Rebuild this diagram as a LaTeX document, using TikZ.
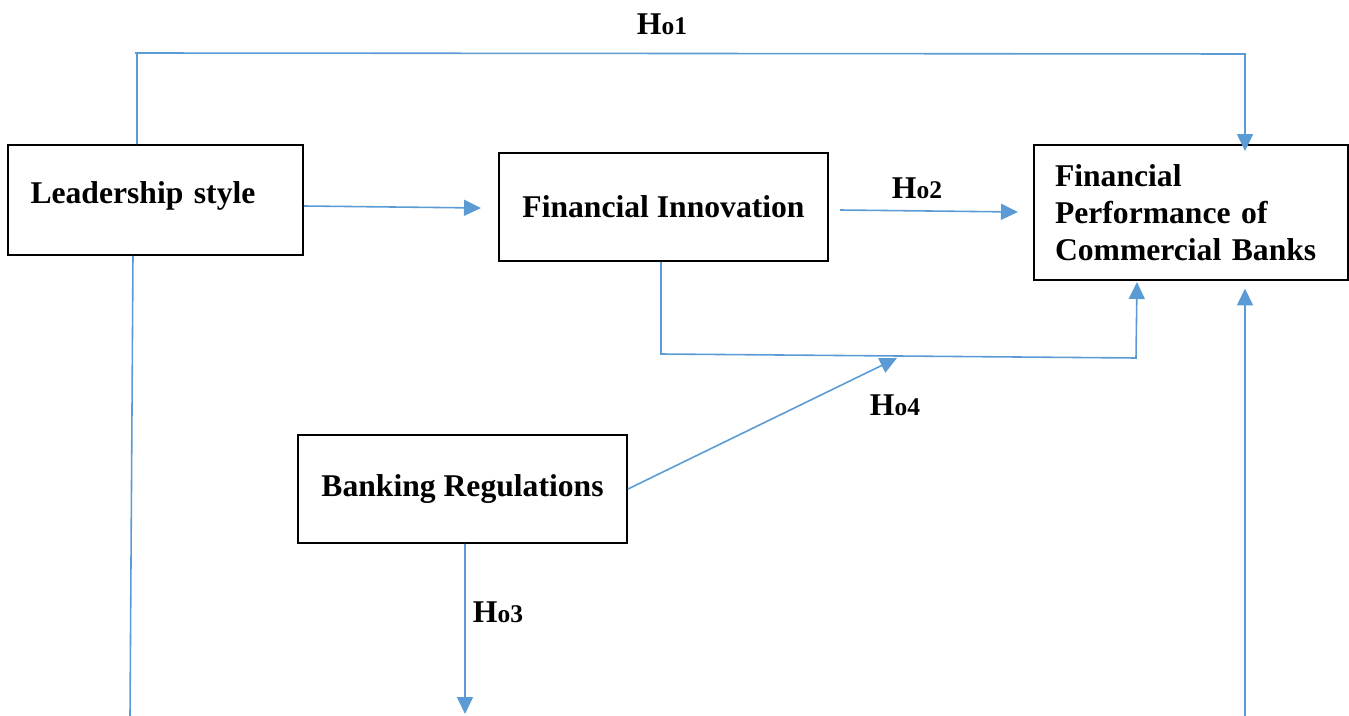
\documentclass[tikz,border=0pt]{standalone}
\usepackage{fontspec}
\setmainfont{Liberation Serif}
\usetikzlibrary{arrows.meta,positioning}
\definecolor{linkblue}{HTML}{5B9BD5}
\tikzset{
  box/.style   = {rectangle, draw, line width=1.1pt, align=center,
                  font=\bfseries\fontsize{18}{21}\selectfont, inner sep=0pt},
  flow/.style  = {-{Triangle[length=3.4mm,width=3.2mm]}, linkblue, line width=0.9pt},
  link/.style  = {linkblue, line width=0.9pt},
  hlabel/.style = {font=\bfseries\fontsize{18}{21}\selectfont, inner sep=0pt},
}
\newcommand{\hyp}[1]{H{\fontsize{14.5}{16}\selectfont o#1}}

\begin{document}
\begin{tikzpicture}
    \useasboundingbox (0,0) rectangle (26.98,-14.32);
    % nodes
    \node[box, minimum width=5.9cm, minimum height=2.2cm, text width=5.0cm,
          align=left, text depth=0.3cm] (lead) at (3.11,-4.0) {Leadership style};
    \node[box, minimum width=6.58cm, minimum height=2.16cm] (innov) at (13.27,-4.14) {Financial Innovation};
    \node[box, minimum width=6.28cm, minimum height=2.7cm, text width=5.44cm,
          align=left] (perf) at (23.82,-4.25) {Financial\\Performance of\\Commercial Banks};
    \node[box, minimum width=6.58cm, minimum height=2.16cm] (reg) at (9.25,-9.78) {Banking Regulations};
    % free ends
    \coordinate (top1) at (2.74,-1.06);
    \coordinate (top2) at (24.9,-1.08);
    \coordinate (innend) at (9.62,-4.16);
    \coordinate (h2start) at (16.8,-4.2);
    \coordinate (h2end) at (20.36,-4.24);
    \coordinate (fi1) at (13.22,-7.08);
    \coordinate (fi2) at (22.72,-7.16);
    \coordinate (h4end) at (17.94,-7.16);
    \coordinate (h3end) at (9.3,-14.28);
    \coordinate (leadend) at (2.6,-14.32);
    \coordinate (rightend) at (24.9,-14.32);
    % edges
    \draw[flow] ([xshift=-0.37cm]lead.north) -- (top1) -- ([xshift=-0.04cm]top1) -- (top1)
      -- (top2) -- ([xshift=1.08cm,yshift=-0.14cm]perf.north);
    \draw[flow] ([yshift=-0.12cm]lead.east) -- (innend);
    \draw[flow] (h2start) -- (h2end);
    \draw[flow] ([xshift=-0.05cm]innov.south) -- (fi1) -- (fi2) -- ([xshift=-1.08cm,yshift=-0.02cm]perf.south);
    \draw[flow] (reg.east) -- (h4end);
    \draw[flow] ([xshift=0.05cm]reg.south) -- (h3end);
    \draw[link] ([xshift=-0.45cm]lead.south) -- (leadend);
    \draw[flow] (rightend) -- ([xshift=1.08cm,yshift=-0.15cm]perf.south);
    % labels
    \node[hlabel] (l1) at (13.24,-0.48) {\hyp{1}};
    \node[hlabel] (l2) at (18.34,-3.76) {\hyp{2}};
    \node[hlabel] (l3) at (9.96,-12.24) {\hyp{3}};
    \node[hlabel] (l4) at (17.9,-8.1) {\hyp{4}};
\end{tikzpicture}
\end{document}
